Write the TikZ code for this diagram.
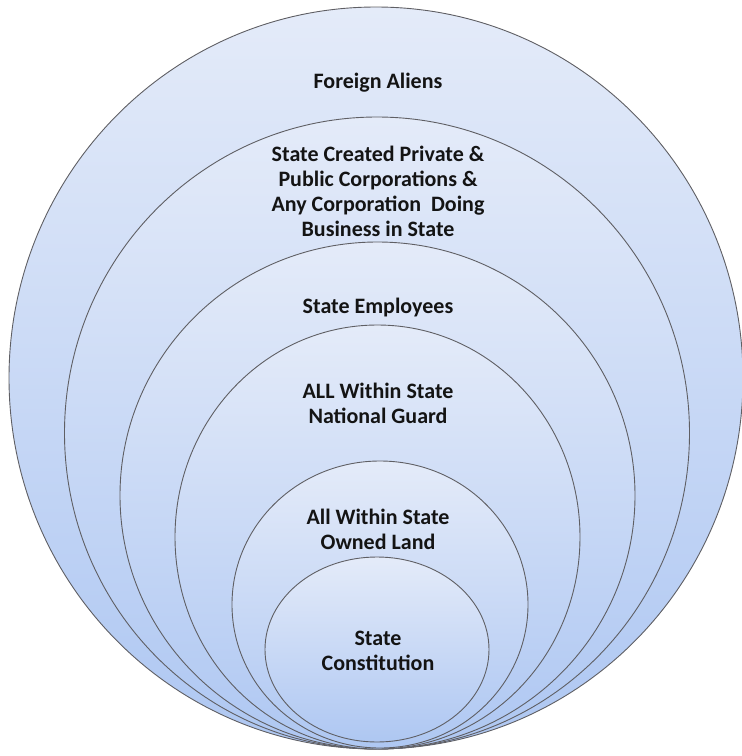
\documentclass[tikz,border=0pt]{standalone}
\usepackage{fontspec}
\setmainfont{Carlito}
\usetikzlibrary{shapes.geometric}
\definecolor{ringtop}{RGB}{228,235,249}
\definecolor{ringbot}{RGB}{174,199,242}
\definecolor{ringline}{RGB}{95,95,100}
\definecolor{txt}{RGB}{20,20,20}
\tikzset{
  ring/.style={ellipse, draw=ringline, line width=0.9pt, inner sep=0pt,
    top color=ringtop, bottom color=ringbot, shading angle=0},
  lbl/.style={align=center, font=\fontsize{22}{25}\selectfont\bfseries, text=txt, inner sep=0pt}
}
\begin{document}
\begin{tikzpicture}[x=1pt,y=-1pt]
\useasboundingbox (0,0) rectangle (742,756);
\node[ring, minimum width=734pt, minimum height=742pt] (e1) at (376,378) {};
\node[ring, minimum width=625pt, minimum height=632pt] (e2) at (377,433) {};
\node[ring, minimum width=515pt, minimum height=507pt] (e3) at (377.5,495.5) {};
\node[ring, minimum width=405pt, minimum height=424pt] (e4) at (377.5,537) {};
\node[ring, minimum width=296pt, minimum height=287pt] (e5) at (380,604.5) {};
\node[ring, minimum width=224pt, minimum height=185pt] (e6) at (377,649.5) {};
\node[lbl] (t1) at (378,83) {Foreign Aliens};
\node[lbl] (t2) at (378,191.5) {State Created Private \&\\Public Corporations \&\\Any Corporation\ \ Doing\\Business in State};
\node[lbl] (t3) at (378,308) {State Employees};
\node[lbl] (t4) at (378,403) {ALL Within State\\National Guard};
\node[lbl] (t5) at (378,529) {All Within State\\Owned Land};
\node[lbl] (t6) at (378,650.5) {State\\Constitution};
\end{tikzpicture}
\end{document}
